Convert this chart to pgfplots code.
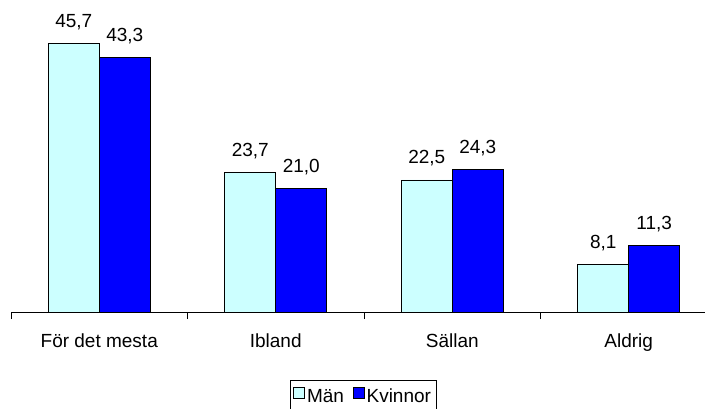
\documentclass[border=0pt]{standalone}
\usepackage{fontspec}
\setmainfont{Liberation Sans}
\usepackage{pgfplots}
\pgfplotsset{compat=1.18}
\definecolor{manc}{HTML}{CCFFFF}
\definecolor{kvc}{HTML}{0000FF}
\pgfkeys{/pgf/number format/.cd, use comma, fixed, fixed zerofill, precision=1, assume math mode=true}
\begin{document}
\begin{tikzpicture}[font=\fontsize{19}{22}\selectfont]
\begin{axis}[
 at={(11pt,96pt)}, anchor=south west,
 scale only axis, width=694pt, height=312pt,
 xmin=-0.5, xmax=3.432, ymin=0, ymax=53.15,
 clip=false,
 axis x line=bottom, axis y line=none,
 x axis line style={-, line width=0.8pt},
 ybar=0pt, bar width=51pt,
 xtick={0,1,2,3},
 xticklabels={För det mesta, Ibland, Sällan, Aldrig},
 major tick length=0pt,
 xticklabel style={anchor=base, yshift=-35pt},
 extra x ticks={-0.5,0.5,1.5,2.5},
 extra x tick labels={},
 extra x tick style={major tick length=7pt, tick align=outside, tick style={black, line width=0.8pt}},
 nodes near coords,
 nodes near coords style={anchor=base, yshift=16pt, black},
 legend columns=2,
 legend style={at={(0.5075,-0.27)}, anchor=center, draw=black, line width=0.8pt,
   inner xsep=3pt, inner ysep=6pt, /tikz/every even column/.append style={column sep=7pt}},
 legend image code/.code={\draw[#1, draw=black, line width=0.6pt] (0pt,-2pt) rectangle (11pt,9pt);},
]
\addplot[fill=manc, draw=black, line width=0.8pt] coordinates {(0,45.7) (1,23.7) (2,22.5) (3,8.1)};
\addlegendentry{Män}
\addplot[fill=kvc, draw=black, line width=0.8pt] coordinates {(0,43.3) (1,21.0) (2,24.3) (3,11.3)};
\addlegendentry{Kvinnor}
\end{axis}
\pgfresetboundingbox
\path[use as bounding box] (0,0) rectangle (705pt,408pt);
\end{tikzpicture}
\end{document}
